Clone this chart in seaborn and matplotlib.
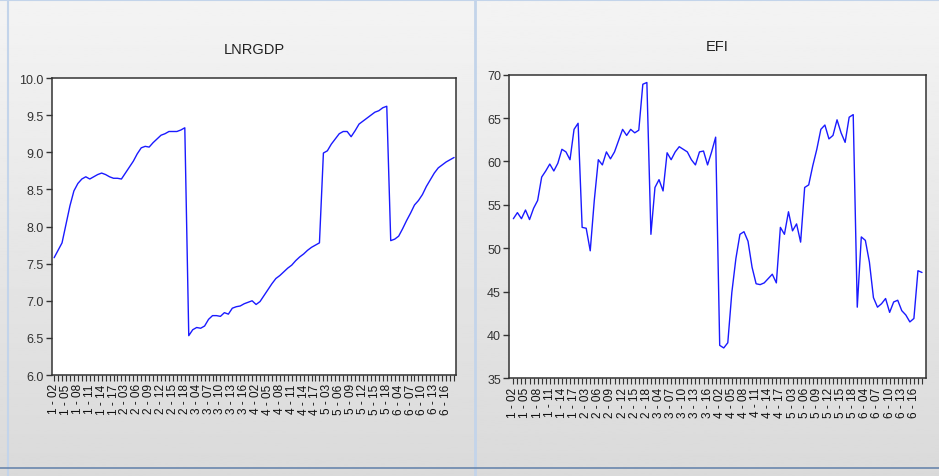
import numpy as np
import pandas as pd
import seaborn as sns
import matplotlib.pyplot as plt
from matplotlib.ticker import FixedLocator, FormatStrFormatter

# panel: 6 cross-sections, years 02..18 (17 obs each)
sections = [1, 2, 3, 4, 5, 6]
years = list(range(2, 19))

lnrgdp = [7.58, 7.68, 7.78, 8.03, 8.28, 8.48, 8.58, 8.64, 8.67, 8.64, 8.67, 8.70, 8.72, 8.70, 8.67, 8.65, 8.65,
          8.64, 8.72, 8.80, 8.88, 8.98, 9.06, 9.08, 9.07, 9.13, 9.18, 9.23, 9.25, 9.28, 9.28, 9.28, 9.30, 9.33,
          6.53, 6.61, 6.64, 6.63, 6.66, 6.75, 6.80, 6.80, 6.79, 6.84, 6.82, 6.90, 6.92, 6.93, 6.96, 6.98, 7.00,
          6.95, 6.99, 7.07, 7.15, 7.23, 7.30, 7.34, 7.39, 7.44, 7.48, 7.54, 7.59, 7.63, 7.68, 7.72, 7.75, 7.78,
          8.99, 9.02, 9.11, 9.18, 9.25, 9.28, 9.28, 9.21, 9.29, 9.38, 9.42, 9.46, 9.50, 9.54, 9.56, 9.60, 9.62,
          7.81, 7.83, 7.87, 7.97, 8.08, 8.18, 8.29, 8.35, 8.43, 8.54, 8.63, 8.72, 8.79, 8.83, 8.87, 8.90, 8.93]

efi = [53.4, 54.1, 53.4, 54.4, 53.3, 54.6, 55.5, 58.2, 58.9, 59.7, 58.9, 59.8, 61.4, 61.1, 60.2, 63.7, 64.4,
       52.4, 52.3, 49.7, 55.5, 60.2, 59.6, 61.1, 60.3, 61.1, 62.4, 63.7, 63.0, 63.7, 63.3, 63.6, 68.9, 69.1,
       51.6, 57.0, 57.9, 56.6, 61.0, 60.2, 61.1, 61.7, 61.4, 61.1, 60.2, 59.6, 61.1, 61.2, 59.6, 61.1, 62.8,
       38.8, 38.5, 39.1, 44.9, 48.8, 51.6, 51.9, 50.8, 47.8, 45.9, 45.8, 46.0, 46.5, 47.0, 46.0, 52.4, 51.6,
       54.2, 52.0, 52.8, 50.7, 57.0, 57.3, 59.5, 61.4, 63.7, 64.2, 62.6, 63.0, 64.8, 63.3, 62.2, 65.1, 65.4,
       43.2, 51.3, 50.9, 48.4, 44.3, 43.2, 43.6, 44.2, 42.6, 43.8, 44.0, 42.8, 42.3, 41.5, 41.9, 47.4, 47.2]

labels = [f"{s} - {y:02d}" for s in sections for y in years]
df = pd.DataFrame({"obs": np.arange(len(labels)), "label": labels,
                   "LNRGDP": lnrgdp, "EFI": efi})

sns.set_style("ticks")
plt.rcParams['font.family'] = ['Liberation Sans', 'DejaVu Sans']

fig = plt.figure(figsize=(9.39, 4.77), dpi=100)

# grey gradient background
bg = fig.add_axes([0, 0, 1, 1], zorder=-10)
grad = np.linspace(0.955, 0.855, 256).reshape(-1, 1)
bg.imshow(grad, aspect="auto", cmap="gray", vmin=0, vmax=1, extent=[0, 1, 0, 1])
bg.set_xlim(0, 1)
bg.set_ylim(0, 1)
bg.axis("off")
bg.axvline(0.506, color="#c3d4ea", lw=2)
bg.axvline(0.008, color="#c3d4ea", lw=1.5)
bg.axhline(0.998, color="#c3d4ea", lw=1.5)
bg.axhline(0.016, color="#6a86ad", lw=1.2)

panels = [
    ("LNRGDP", [0.0551, 0.2117, 0.4306, 0.6226], (6.0, 10.0), np.arange(6.0, 10.01, 0.5), "%.1f", (-0.6, 101.5)),
    ("EFI", [0.5424, 0.2048, 0.4438, 0.6365], (35, 70), np.arange(35, 71, 5), "%d", (-1.0, 102.0)),
]

for name, pos, ylim, yticks, fmt, xlim in panels:
    ax = fig.add_axes(pos)
    ax.set_facecolor("white")
    sns.lineplot(data=df, x="obs", y=name, ax=ax, color="#1a1aff", lw=1.0)
    ax.set_xlim(*xlim)
    ax.set_ylim(*ylim)
    ax.set_yticks(yticks)
    ax.yaxis.set_major_formatter(FormatStrFormatter(fmt))
    major = df["obs"].values[::3]
    ax.set_xticks(major)
    ax.set_xticklabels(df["label"].values[::3], rotation=90, fontsize=8.5, color="#111111")
    ax.xaxis.set_minor_locator(FixedLocator(df["obs"].values))
    ax.tick_params(axis="x", which="both", direction="out", length=4, width=0.8, color="#333333", pad=2)
    ax.tick_params(axis="y", direction="out", length=4, width=1.0, color="#333333",
                   labelsize=9, labelcolor="#333333", pad=2)
    for sp in ax.spines.values():
        sp.set_visible(True)
        sp.set_color("#333333")
        sp.set_linewidth(1.1)
    ax.set_xlabel("")
    ax.set_ylabel("")
    ax.set_title(name, fontsize=10.5, color="#222222", pad=18)

fig.savefig("out.png", dpi=100)
